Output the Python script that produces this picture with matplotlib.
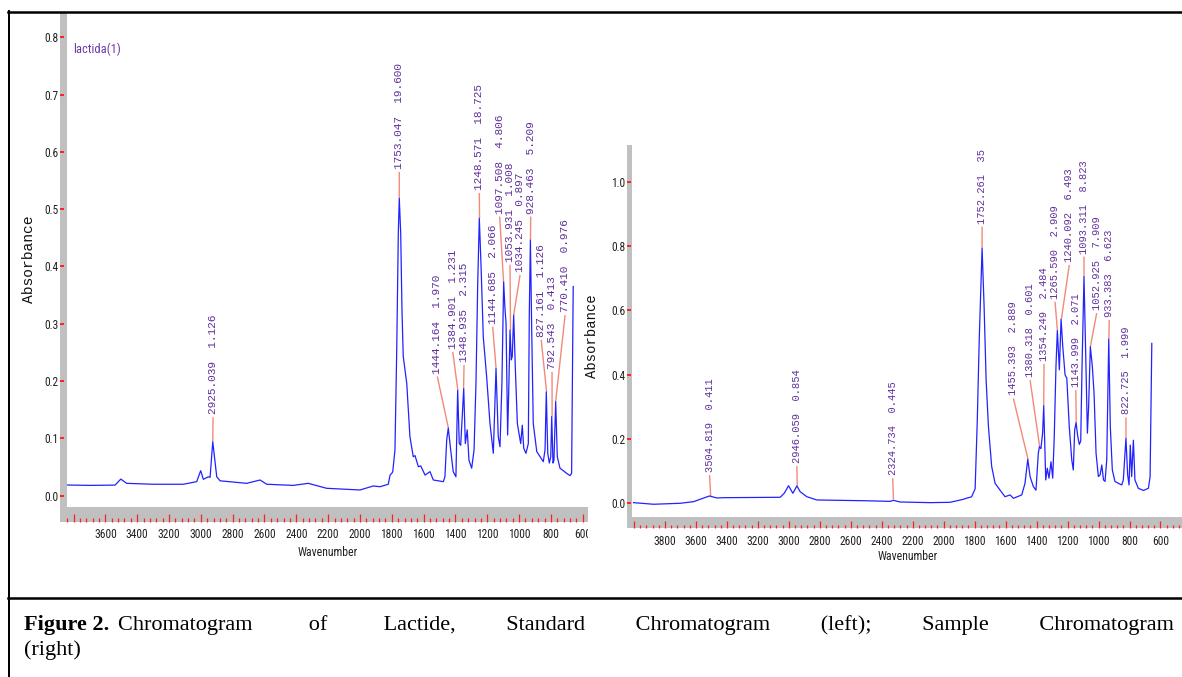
import matplotlib
matplotlib.use("Agg")
import matplotlib.pyplot as plt
import matplotlib.transforms as mtransforms
from matplotlib.patches import Rectangle
from matplotlib.lines import Line2D
from matplotlib.ticker import FixedLocator, MultipleLocator, FuncFormatter

# ---------------- data: standard (left) ----------------
std_wn = [3842, 3700, 3539, 3503, 3466, 3300, 3110, 3026, 3001, 2984, 2953, 2942,
          2925, 2900, 2879, 2712, 2628, 2586, 2419, 2325, 2209, 2000, 1916, 1874,
          1822, 1811, 1800, 1794, 1780, 1769, 1759, 1753, 1744, 1736, 1728, 1706,
          1686, 1665, 1654, 1633, 1618, 1591, 1560, 1539, 1476, 1466, 1455, 1445,
          1430, 1414, 1397, 1386, 1376, 1367, 1348, 1338, 1326, 1315, 1298, 1283,
          1271, 1260, 1250, 1239, 1225, 1204, 1183, 1162, 1145, 1131, 1120, 1108,
          1097, 1089, 1082, 1072, 1064, 1057, 1049, 1043, 1034, 1024, 1011, 990,
          980, 971, 957, 942, 936, 929, 921, 911, 889, 848, 837, 829, 820, 810,
          801, 795, 787, 781, 770, 760, 743, 701, 680, 670, 660]
std_abs = [0.0187, 0.018, 0.0185, 0.029, 0.0216, 0.020, 0.020, 0.0245, 0.0437, 0.0286, 0.033, 0.032,
           0.094, 0.033, 0.026, 0.0216, 0.0274, 0.020, 0.018, 0.0216, 0.0129, 0.010, 0.017, 0.0157,
           0.020, 0.036, 0.039, 0.042, 0.080, 0.254, 0.458, 0.519, 0.458, 0.324, 0.243, 0.196,
           0.103, 0.068, 0.070, 0.0506, 0.052, 0.036, 0.042, 0.0274, 0.0245, 0.033, 0.097, 0.118,
           0.080, 0.042, 0.033, 0.184, 0.091, 0.088, 0.187, 0.091, 0.115, 0.062, 0.048, 0.080,
           0.196, 0.371, 0.484, 0.400, 0.277, 0.208, 0.126, 0.074, 0.222, 0.103, 0.0855, 0.196,
           0.373, 0.327, 0.301, 0.106, 0.196, 0.289, 0.237, 0.243, 0.315, 0.225, 0.126, 0.091,
           0.123, 0.083, 0.074, 0.091, 0.314, 0.446, 0.293, 0.126, 0.077, 0.0594, 0.080, 0.181, 0.074, 0.057,
           0.068, 0.138, 0.057, 0.062, 0.164, 0.068, 0.048, 0.039, 0.035, 0.039, 0.365]

std_peak_labels = ["2925.039  1.126", "1753.047  19.600", "1444.164  1.970", "1384.901  1.231",
                   "1348.935  2.315", "1248.571  18.725", "1144.685  2.066", "1097.508  4.806",
                   "1053.931  1.008", "1034.245  0.897", "928.463  5.209", "827.161  1.126",
                   "792.543  0.413", "770.410  0.976"]
std_peak_wn = [2925.039, 1753.047, 1444.164, 1384.901, 1348.935, 1248.571, 1144.685, 1097.508,
               1053.931, 1034.245, 928.463, 827.161, 792.543, 770.410]
std_peak_abs = [0.094, 0.519, 0.118, 0.184, 0.187, 0.484, 0.222, 0.373,
                0.289, 0.315, 0.446, 0.181, 0.138, 0.164]

# ---------------- data: sample (right) ----------------
smp_wn = [4003, 3874, 3702, 3616, 3573, 3513, 3465, 3422, 3056, 3030, 3002, 2974,
          2948, 2927, 2884, 2819, 2518, 2346, 2325, 2282, 2088, 1959, 1873, 1851,
          1820, 1797, 1783, 1770, 1752, 1739, 1726, 1711, 1690, 1668, 1636, 1604,
          1571, 1550, 1496, 1475, 1457, 1442, 1421, 1404, 1389, 1382, 1372, 1361,
          1354, 1341, 1331, 1320, 1307, 1296, 1286, 1275, 1266, 1253, 1242, 1231,
          1216, 1205, 1189, 1173, 1163, 1154, 1145, 1134, 1124, 1115, 1107, 1094,
          1083, 1072, 1064, 1053, 1040, 1029, 1016, 1001, 990, 979, 968, 958,
          947, 934, 924, 911, 894, 872, 850, 840, 823, 812, 803, 795,
          786, 775, 765, 743, 710, 678, 667, 656]
smp_abs = [0.002, -0.003, 0.0, 0.005, 0.0124, 0.0227, 0.0165, 0.0174, 0.0187, 0.031, 0.0547, 0.031,
           0.054, 0.036, 0.0205, 0.0103, 0.008, 0.006, 0.0093, 0.004, 0.002, 0.003, 0.0124, 0.016,
           0.020, 0.045, 0.259, 0.518, 0.793, 0.611, 0.383, 0.238, 0.114, 0.062, 0.041, 0.0205,
           0.026, 0.0155, 0.026, 0.062, 0.137, 0.083, 0.052, 0.041, 0.155, 0.176, 0.170, 0.220,
           0.303, 0.0726, 0.109, 0.078, 0.129, 0.078, 0.207, 0.425, 0.537, 0.415, 0.572, 0.487,
           0.399, 0.389, 0.238, 0.135, 0.1035, 0.228, 0.251, 0.207, 0.183, 0.194, 0.415, 0.705,
           0.466, 0.218, 0.300, 0.487, 0.425, 0.342, 0.155, 0.083, 0.088, 0.119, 0.0726, 0.068,
           0.135, 0.510, 0.238, 0.1035, 0.068, 0.062, 0.057, 0.0726, 0.202, 0.088, 0.057, 0.181,
           0.083, 0.196, 0.0726, 0.0466, 0.040, 0.0466, 0.083, 0.497]

smp_peak_labels = ["3504.819  0.411", "2946.059  0.854", "2324.734  0.445", "1752.261  35",
                   "1455.393  2.889", "1380.318  0.601", "1354.249  2.484", "1265.590  2.909",
                   "1240.092  6.493", "1143.999  2.071", "1093.311  8.823", "1052.925  7.909",
                   "933.383  6.623", "822.725  1.999"]
smp_peak_wn = [3504.819, 2946.059, 2324.734, 1752.261, 1455.393, 1380.318, 1354.249, 1265.590,
               1240.092, 1143.999, 1093.311, 1052.925, 933.383, 822.725]
smp_peak_abs = [0.0227, 0.054, 0.0124, 0.793, 0.137, 0.176, 0.303, 0.537,
                0.572, 0.251, 0.705, 0.487, 0.510, 0.202]

# ---------------- layout (label anchor positions) ----------------
std_label_x = [2923, 1753, 1514, 1417, 1346, 1250, 1166, 1122, 1057, 994, 927, 861, 793, 711]
std_label_y = [0.137, 0.565, 0.208, 0.251, 0.228, 0.528, 0.295, 0.487, 0.403, 0.385, 0.487, 0.272, 0.216, 0.315]
smp_label_x = [3512, 2948, 2329, 1752, 1550, 1442, 1352, 1281, 1189, 1147, 1094, 1012, 931, 823]
smp_label_y = [0.088, 0.116, 0.078, 0.860, 0.326, 0.383, 0.433, 0.627, 0.741, 0.352, 0.767, 0.591, 0.570, 0.267]

std_xticks = list(range(3800, 500, -200))
smp_xticks = list(range(4000, 300, -200))
std_yticks = [0.0, 0.1, 0.2, 0.3, 0.4, 0.5, 0.6, 0.7, 0.8]
smp_yticks = [0.0, 0.2, 0.4, 0.6, 0.8, 1.0]

caption_bold = "Figure 2."
caption_rest = "Chromatogram of Lactide, Standard Chromatogram (left); Sample Chromatogram"
caption_line2 = "(right)"

# ---------------- style ----------------
W, H = 1182, 677
BLUE = "#2222ff"
SALMON = "#f28a78"
PURPLE = "#5e2f9a"
GRAY = "#c0c0c0"
RED = "#ff2020"
NARROW = ["Roboto Condensed", "Liberation Sans Narrow", "Liberation Sans", "DejaVu Sans"]
MONO = ["Liberation Mono", "DejaVu Sans Mono"]

plt.rcParams["font.family"] = NARROW

fig = plt.figure(figsize=(W / 100, H / 100), dpi=100)


def fx(x):
    return x / W


def fy(y):
    return 1 - y / H


def px2pt(p):
    return p * 72 / 100


def make_panel(rect_px, bar_x0, band_h, xlim, ylim, xticks, yticks, major_len, minor_len, fmt):
    x0, y0, x1, y1 = rect_px  # left, top, right, bottom in pixels
    ax = fig.add_axes([fx(x0), fy(y1), (x1 - x0) / W, (y1 - y0) / H])
    ax.set_xlim(*xlim)
    ax.set_ylim(*ylim)
    ax.patch.set_alpha(0)
    for s in ["top", "right"]:
        ax.spines[s].set_visible(False)
    ax.spines["left"].set_position(("outward", px2pt(x0 - bar_x0)))
    ax.spines["bottom"].set_position(("outward", px2pt(band_h)))
    ax.spines["left"].set_visible(False)
    ax.spines["bottom"].set_visible(False)
    # gray bars
    fig.add_artist(Rectangle((fx(bar_x0), fy(y1 + band_h)), (x0 - bar_x0) / W, (y1 + band_h - y0) / H,
                             transform=fig.transFigure, facecolor=GRAY, edgecolor="none", zorder=-1))
    fig.add_artist(Rectangle((fx(bar_x0), fy(y1 + band_h)), (x1 - bar_x0) / W, band_h / H,
                             transform=fig.transFigure, facecolor=GRAY, edgecolor="none", zorder=-1))
    ax.xaxis.set_major_locator(FixedLocator(xticks))
    ax.xaxis.set_minor_locator(MultipleLocator(40))
    ax.yaxis.set_major_locator(FixedLocator(yticks))
    ax.tick_params(axis="x", which="major", direction="in", length=major_len, width=0.9, color=RED,
                   labelsize=8.3, pad=4.5, labelcolor="#222222")
    ax.tick_params(axis="x", which="minor", direction="in", length=minor_len, width=0.9, color=RED)
    ax.tick_params(axis="y", which="major", direction="in", length=2.6, width=1.4, color=RED,
                   labelsize=8.3, pad=1.0, labelcolor="#222222")
    ax.xaxis.set_major_formatter(FuncFormatter(fmt))
    ax.yaxis.set_major_formatter(FuncFormatter(lambda v, p: "%.1f" % v))
    return ax


def peaks(ax, pw, pa, labels, lx, ly, fs):
    trans = mtransforms.offset_copy(ax.transData, fig=fig, x=0, y=3, units="dots")
    for w, a, t, x, y in zip(pw, pa, labels, lx, ly):
        ax.plot([x, w], [y, a], color=SALMON, lw=1.0, zorder=2, solid_capstyle="butt")
        ax.text(x, y, t, rotation=90, ha="center", va="bottom", transform=trans,
                fontsize=fs, color=PURPLE, family=MONO, zorder=4)


# left panel
ax1 = make_panel((67, 12, 588, 507), 60, 15, (3841, 567), (-0.0197, 0.844), std_xticks, std_yticks,
                 px2pt(8), px2pt(4), lambda v, p: "" if v > 3700 else "%d" % v)
ax1.plot(std_wn, std_abs, color=BLUE, lw=0.9, zorder=3)
peaks(ax1, std_peak_wn, std_peak_abs, std_peak_labels, std_label_x, std_label_y, 8.0)
ax1.text(fx(73), fy(49), "lactida(1)", transform=fig.transFigure, ha="left", va="center",
         fontsize=9, color="#6a3aa6")

# right panel
ax2 = make_panel((632.3, 145, 1182, 516.7), 626.7, 11.6, (4011, 461), (-0.0417, 1.114), smp_xticks, smp_yticks,
                 px2pt(6.7), px2pt(3.3), lambda v, p: "" if v > 3900 else "%d" % v)
ax2.plot(smp_wn, smp_abs, color=BLUE, lw=0.9, zorder=3)
peaks(ax2, smp_peak_wn, smp_peak_abs, smp_peak_labels, smp_label_x, smp_label_y, 7.5)

# axis titles
fig.text(fx(29), fy(259), "Absorbance", rotation=90, ha="center", va="center", fontsize=10.5, family=MONO,
         color="#111111")
fig.text(fx(592), fy(336), "Absorbance", rotation=90, ha="center", va="center", fontsize=10, family=MONO,
         color="#111111")
fig.text(fx(328), fy(553), "Wavenumber", ha="center", va="center", fontsize=8.5, color="#222222")
fig.text(fx(908), fy(557), "Wavenumber", ha="center", va="center", fontsize=8.5, color="#222222")

# frame lines
fig.add_artist(Line2D([fx(8), fx(1182)], [fy(11.5), fy(11.5)], color="black", lw=px2pt(2.5),
                      transform=fig.transFigure))
fig.add_artist(Line2D([fx(9), fx(9)], [fy(11), fy(677)], color="black", lw=px2pt(2),
                      transform=fig.transFigure))
fig.add_artist(Line2D([fx(8), fx(1182)], [fy(597.5), fy(597.5)], color="black", lw=px2pt(2.5),
                      transform=fig.transFigure))

# caption
SERIF = ["Liberation Serif", "DejaVu Serif"]
CAP_FS = 16
cb = fig.text(fx(24), fy(625), caption_bold, ha="left", va="center", fontsize=CAP_FS, fontweight="bold",
              family=SERIF)
cr = fig.text(fx(24), fy(625), caption_rest, ha="left", va="center", fontsize=CAP_FS, family=SERIF)
fig.text(fx(24), fy(650), caption_line2, ha="left", va="center", fontsize=CAP_FS, family=SERIF)

fig.canvas.draw()
r = fig.canvas.get_renderer()
bb = cb.get_window_extent(r)
cr.set_x((bb.x1 + 9) / W)
words = caption_rest.split(" ")
ngaps = len(words) - 1
best = [1] * ngaps
TARGET = 1177
# justify: grow gaps one space at a time, left to right, while the line still fits
done = False
while not done:
    grew = False
    for i in range(ngaps):
        trial = list(best)
        trial[i] += 1
        txt = words[0] + "".join(" " * trial[k] + words[k + 1] for k in range(ngaps))
        cr.set_text(txt)
        if cr.get_window_extent(r).x1 <= TARGET:
            best = trial
            grew = True
        else:
            done = True
            break
    if not grew:
        break
cr.set_text(words[0] + "".join(" " * best[k] + words[k + 1] for k in range(ngaps)))

# clip the cut-off last tick label of the left panel
clip = mtransforms.TransformedBbox(mtransforms.Bbox.from_extents(0, 0, fx(588), 1), fig.transFigure)
for t in ax1.xaxis.get_major_ticks():
    t.label1.set_clip_box(clip)
    t.label1.set_clip_on(True)

fig.savefig("out.png", dpi=100)
